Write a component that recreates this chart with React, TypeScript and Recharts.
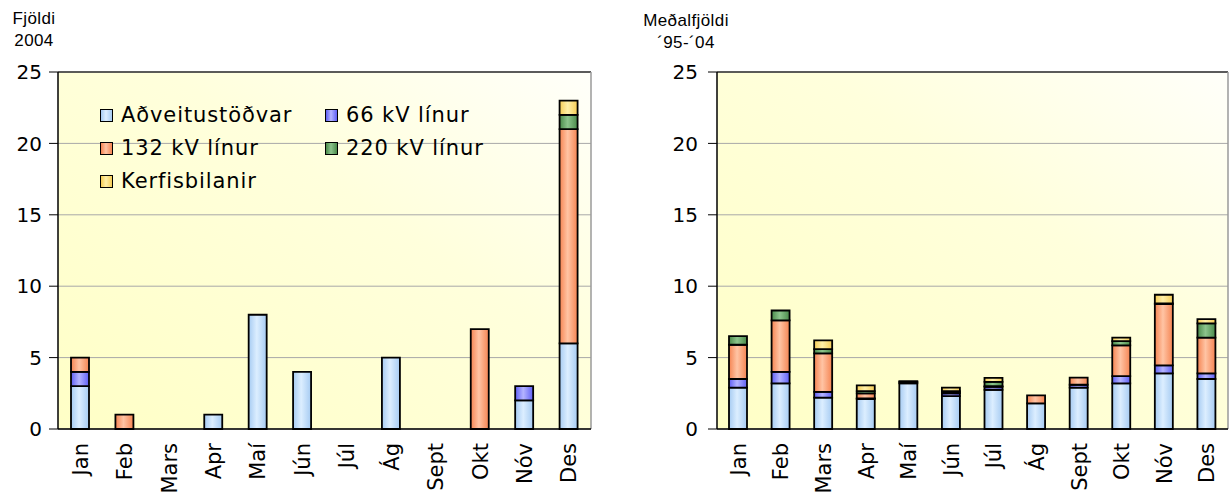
import React from "react";
import { BarChart, Bar, XAxis, YAxis, CartesianGrid, ReferenceLine } from "recharts";

const MONTHS = ["Jan", "Feb", "Mars", "Apr", "Maí", "Jún", "Júl", "Ág", "Sept", "Okt", "Nóv", "Des"];
const Y_TICKS = [0, 5, 10, 15, 20, 25];
const EDGE_TICKS = [0, 1, 2, 3, 4, 5, 6, 7, 8, 9, 10, 11, 12];

// Fjöldi 2004
const ADV_2004 = [3, 0, 0, 1, 8, 4, 0, 5, 0, 0, 2, 6];
const KV66_2004 = [1, 0, 0, 0, 0, 0, 0, 0, 0, 0, 1, 0];
const KV132_2004 = [1, 1, 0, 0, 0, 0, 0, 0, 0, 7, 0, 15];
const KV220_2004 = [0, 0, 0, 0, 0, 0, 0, 0, 0, 0, 0, 1];
const KERFI_2004 = [0, 0, 0, 0, 0, 0, 0, 0, 0, 0, 0, 1];

// Meðalfjöldi '95-'04
const ADV_AVG = [2.9, 3.2, 2.2, 2.1, 3.2, 2.3, 2.75, 1.8, 2.9, 3.2, 3.9, 3.5];
const KV66_AVG = [0.6, 0.8, 0.4, 0.05, 0.1, 0.2, 0.2, 0, 0.2, 0.5, 0.55, 0.4];
const KV132_AVG = [2.4, 3.6, 2.7, 0.35, 0, 0.05, 0.05, 0.55, 0.5, 2.15, 4.3, 2.5];
const KV220_AVG = [0.6, 0.7, 0.3, 0.15, 0.05, 0.1, 0.3, 0, 0, 0.3, 0.05, 1.0];
const KERFI_AVG = [0, 0, 0.6, 0.4, 0, 0.25, 0.28, 0, 0, 0.25, 0.6, 0.3];

const SERIES = [
  { key: "adv", name: "Aðveitustöðvar", edge: "#a6cbf2", mid: "#dceeff" },
  { key: "kv66", name: "66 kV línur", edge: "#5f5ff5", mid: "#b4b4ff" },
  { key: "kv132", name: "132 kV línur", edge: "#f58452", mid: "#ffc4a4" },
  { key: "kv220", name: "220 kV línur", edge: "#4a8a4a", mid: "#8cc48c" },
  { key: "kerfi", name: "Kerfisbilanir", edge: "#f5cc55", mid: "#fff0a8" },
];

function rows(cols: number[][]) {
  return MONTHS.map((m, i) => ({
    m,
    idx: i,
    adv: cols[0][i],
    kv66: cols[1][i],
    kv132: cols[2][i],
    kv220: cols[3][i],
    kerfi: cols[4][i],
  }));
}

const DATA_2004 = rows([ADV_2004, KV66_2004, KV132_2004, KV220_2004, KERFI_2004]);
const DATA_AVG = rows([ADV_AVG, KV66_AVG, KV132_AVG, KV220_AVG, KERFI_AVG]);

const FONT = "'DejaVu Sans', Verdana, sans-serif";

function MonthTick({ x, y, payload }: any) {
  return (
    <text
      x={x}
      y={y}
      transform={`rotate(-90 ${x} ${y})`}
      textAnchor="end"
      dy="0.36em"
      fontSize={21}
      fontFamily={FONT}
      fill="#000"
    >
      {payload.value}
    </text>
  );
}

function Panel({ id, data, width, left, yWidth, tickMargin, marginRight }: {
  id: string; data: any[]; width: number; left: number; yWidth: number; tickMargin: number; marginRight: number;
}) {
  return (
    <div style={{ position: "absolute", left, top: 0 }}>
      <BarChart
        width={width}
        height={495}
        data={data}
        barSize={18}
        margin={{ top: 72, right: marginRight, left: 0, bottom: 0 }}
      >
        <defs>
          <linearGradient id={`${id}-bg`} x1="0" y1="1" x2="1" y2="0">
            <stop offset="0%" stopColor="#ffffc6" />
            <stop offset="60%" stopColor="#ffffdc" />
            <stop offset="100%" stopColor="#fffffa" />
          </linearGradient>
          {SERIES.map((s) => (
            <linearGradient key={s.key} id={`${id}-${s.key}`} x1="0" y1="0" x2="1" y2="0">
              <stop offset="0%" stopColor={s.edge} />
              <stop offset="45%" stopColor={s.mid} />
              <stop offset="100%" stopColor={s.edge} />
            </linearGradient>
          ))}
        </defs>
        <CartesianGrid vertical={false} stroke="#a8a8a8" fill={`url(#${id}-bg)`} />
        <XAxis
          xAxisId="edge"
          type="number"
          dataKey="idx"
          domain={[0, 12]}
          ticks={EDGE_TICKS}
          tick={false}
          height={0}
          axisLine={false}
          tickLine={{ stroke: "#000", strokeWidth: 1 }}
          tickSize={8}
        />
        <XAxis
          dataKey="m"
          height={66}
          axisLine={{ stroke: "#000", strokeWidth: 1.5 }}
          tickLine={false}
          tickSize={0}
          tickMargin={14}
          tick={<MonthTick />}
          interval={0}
        />
        <YAxis
          width={yWidth}
          domain={[0, 25]}
          ticks={Y_TICKS}
          interval={0}
          axisLine={{ stroke: "#000", strokeWidth: 1.5 }}
          tickLine={{ stroke: "#000" }}
          tickSize={9}
          tickMargin={tickMargin}
          tick={{ fontSize: 20, fontFamily: FONT, fill: "#000" }}
        />
        <ReferenceLine y={25} stroke="#333" strokeWidth={1.5} />
        <ReferenceLine x={12} xAxisId="edge" stroke="#9a9a9a" strokeWidth={1.5} />
        {SERIES.map((s) => (
          <Bar
            key={s.key}
            dataKey={s.key}
            stackId="a"
            fill={`url(#${id}-${s.key})`}
            stroke="#000"
            strokeWidth={1.8}
            isAnimationActive={false}
          />
        ))}
      </BarChart>
    </div>
  );
}

function LegendBox() {
  const pos = [
    { left: 100, top: 100 },
    { left: 325, top: 100 },
    { left: 100, top: 133 },
    { left: 325, top: 133 },
    { left: 100, top: 166 },
  ];
  return (
    <>
      {SERIES.map((s, i) => (
        <div
          key={s.key}
          style={{
            position: "absolute",
            left: pos[i].left,
            top: pos[i].top,
            height: 30,
            display: "flex",
            alignItems: "center",
            fontFamily: FONT,
            fontSize: 21,
            letterSpacing: "0.9px",
            whiteSpace: "nowrap",
            color: "#000",
          }}
        >
          <span
            style={{
              display: "inline-block",
              width: 11,
              height: 11,
              border: "1.5px solid #000",
              marginRight: 8,
              background: `linear-gradient(to right, ${s.edge}, ${s.mid} 45%, ${s.edge})`,
            }}
          />
          {s.name}
        </div>
      ))}
    </>
  );
}

const titleStyle: React.CSSProperties = {
  position: "absolute",
  fontFamily: "'Liberation Sans', Arial, sans-serif",
  fontSize: 17,
  letterSpacing: "0.4px",
  lineHeight: "22px",
  color: "#000",
  textAlign: "center",
};

export default function App() {
  return (
    <div
      style={{
        position: "absolute",
        left: 0,
        top: 0,
        width: 1229,
        height: 495,
        overflow: "hidden",
        background: "#fff",
      }}
    >
      <Panel id="l" data={DATA_2004} width={620} left={0} yWidth={58} tickMargin={7} marginRight={29} />
      <Panel id="r" data={DATA_AVG} width={600} left={640} yWidth={77} tickMargin={10} marginRight={12} />
      <div style={{ ...titleStyle, left: 4, top: 8, width: 60 }}>
        Fjöldi
        <br />
        2004
      </div>
      <div style={{ ...titleStyle, left: 636, top: 10, width: 100 }}>
        Meðalfjöldi
        <br />
        ´95-´04
      </div>
      <LegendBox />
    </div>
  );
}
